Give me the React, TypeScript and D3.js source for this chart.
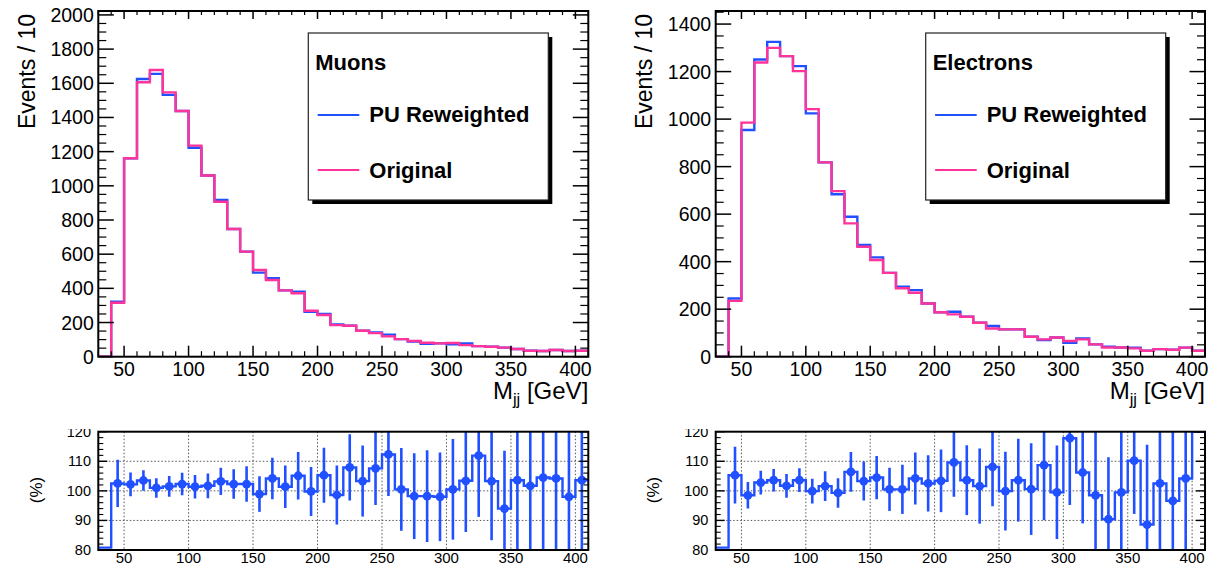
import React from "react";
import * as d3 from "d3";

// ---------- data ----------
const binLow = [30, 40, 50, 60, 70, 80, 90, 100, 110, 120, 130, 140, 150, 160, 170, 180, 190, 200, 210, 220, 230, 240, 250, 260, 270, 280, 290, 300, 310, 320, 330, 340, 350, 360, 370, 380, 390, 400];
const binHigh = 410;

const muonReweighted = [0, 322, 1161, 1625, 1655, 1532, 1438, 1223, 1060, 917, 747, 615, 492, 459, 388, 380, 263, 250, 189, 181, 152, 142, 129, 103, 88, 76, 78, 72, 78, 62, 58, 53, 45, 35, 33, 39, 33, 35];
const muonOriginal = [0, 316, 1161, 1606, 1678, 1547, 1438, 1235, 1060, 907, 747, 615, 507, 449, 388, 371, 269, 244, 185, 181, 152, 138, 119, 103, 92, 82, 78, 80, 68, 62, 58, 53, 45, 35, 33, 39, 33, 35];

const elecReweighted = [0, 245, 954, 1251, 1325, 1265, 1223, 1024, 818, 684, 589, 470, 418, 353, 295, 280, 224, 187, 189, 168, 143, 129, 115, 115, 84, 70, 81, 59, 77, 52, 42, 39, 38, 25, 32, 29, 38, 25];
const elecOriginal = [0, 235, 985, 1238, 1300, 1265, 1202, 1042, 818, 697, 561, 463, 407, 353, 288, 269, 224, 187, 178, 168, 143, 119, 115, 115, 84, 73, 81, 66, 73, 52, 39, 39, 35, 25, 32, 29, 38, 25];

const muonRatio = [0, 102.5, 102.2, 103.5, 101.0, 101.5, 102.3, 101.4, 101.7, 103.2, 102.3, 102.3, 98.9, 104.2, 101.4, 105.1, 99.8, 105.3, 98.6, 107.9, 103.3, 107.6, 112.3, 100.5, 98.2, 98.2, 98.0, 100.5, 103.4, 111.9, 103.3, 94.0, 103.6, 101.7, 104.5, 104.2, 98.0, 103.6];
const muonRatioErr = [0, 8, 4, 3.5, 3.3, 3.5, 3.8, 4, 4.2, 4.6, 5, 6, 6, 7, 7.2, 8, 8.3, 9.3, 10, 11.2, 12, 12.4, 14, 14, 14.5, 15.5, 15, 17, 17.3, 20.7, 20, 19.6, 25, 25, 28, 30, 30, 35];

const elecRatio = [0, 105.3, 98.5, 102.8, 103.6, 101.7, 103.6, 99.9, 101.6, 99.3, 106.4, 103.3, 104.5, 100.5, 100.5, 104.2, 102.5, 103.4, 109.6, 103.6, 101.6, 108.1, 99.9, 103.6, 100.6, 108.7, 99.5, 117.8, 106.2, 98.5, 90.4, 99.5, 110.2, 88.6, 102.5, 96.6, 104.2, 150];
const elecRatioErr = [0, 9.6, 4.5, 4, 3.8, 4, 4, 4.2, 5, 5, 6.7, 6.6, 7.3, 7.3, 8.3, 8.8, 9.5, 10.6, 11.6, 11.8, 12.7, 13.3, 13.3, 14, 15.5, 18.6, 15.8, 22.6, 17.2, 22, 21, 25, 18, 27, 25, 26, 30, 25];

const xTickValues = [50, 100, 150, 200, 250, 300, 350, 400];
const muonYTicks = [0, 200, 400, 600, 800, 1000, 1200, 1400, 1600, 1800, 2000];
const elecYTicks = [0, 200, 400, 600, 800, 1000, 1200, 1400];
const ratioYTicks = [80, 90, 100, 110, 120];
const ratioGridY = [90, 100, 110];

const seriesNames = ["PU Reweighted", "Original"];
const channelNames = ["Muons", "Electrons"];

// ---------- style ----------
const FONT = "'Liberation Sans', Arial, Helvetica, sans-serif";
const BLUE = "#2050ff";
const PINK = "#ff3399";
const TOP_Y0 = 11;
const TOP_Y1 = 356.7;
const R_Y0 = 431.7;
const R_Y1 = 550;

const panels = [
  { left: 98.3, right: 588.3 },
  { left: 715.7, right: 1205 },
];

function histPoints(vals: number[]): [number, number][] {
  const pts: [number, number][] = binLow.map((b, i) => [b, vals[i]]);
  pts.push([binHigh, vals[vals.length - 1]]);
  return pts;
}

function TopPanel(props: {
  idx: number;
  reweighted: number[];
  original: number[];
  yMax: number;
  yTicks: number[];
  title: string;
}) {
  const { idx, reweighted, original, yMax, yTicks, title } = props;
  const { left, right } = panels[idx];
  const x = d3.scaleLinear().domain([30, binHigh]).range([left, right]);
  const y = d3.scaleLinear().domain([0, yMax]).range([TOP_Y1, TOP_Y0]);
  const line = d3
    .line<[number, number]>()
    .x((d) => x(d[0]))
    .y((d) => y(Math.min(d[1], yMax)))
    .curve(d3.curveStepAfter);

  const xMinor = d3.range(30, 411, 10).filter((v) => v % 50 !== 0);
  const yMinor = d3.range(0, yMax, 50).filter((v) => v % 200 !== 0);
  const clipId = `topclip${idx}`;

  const bx = idx === 0 ? 308.3 : 925.7;
  const by = 33;
  const bw = 240;
  const bh = 167;

  return (
    <g>
      <defs>
        <clipPath id={clipId}>
          <rect x={left} y={TOP_Y0} width={right - left} height={TOP_Y1 - TOP_Y0} />
        </clipPath>
      </defs>
      <g clipPath={`url(#${clipId})`}>
        <path d={line(histPoints(reweighted)) || ""} fill="none" stroke={BLUE} strokeWidth={2.4} />
        <path d={line(histPoints(original)) || ""} fill="none" stroke={PINK} strokeWidth={2.4} />
      </g>
      {/* ticks */}
      {xTickValues.map((v) => (
        <g key={"xm" + v}>
          <line x1={x(v)} x2={x(v)} y1={TOP_Y1} y2={TOP_Y1 - 11} stroke="#000" strokeWidth={1.5} />
          <line x1={x(v)} x2={x(v)} y1={TOP_Y0} y2={TOP_Y0 + 8} stroke="#000" strokeWidth={1.5} />
        </g>
      ))}
      {xMinor.map((v) => (
        <g key={"xn" + v}>
          <line x1={x(v)} x2={x(v)} y1={TOP_Y1} y2={TOP_Y1 - 5.5} stroke="#000" strokeWidth={1.2} />
          <line x1={x(v)} x2={x(v)} y1={TOP_Y0} y2={TOP_Y0 + 4} stroke="#000" strokeWidth={1.2} />
        </g>
      ))}
      {yTicks.map((v) => (
        <g key={"ym" + v}>
          <line x1={left} x2={left + 15.5} y1={y(v)} y2={y(v)} stroke="#000" strokeWidth={1.5} />
          <line x1={right} x2={right - 15.5} y1={y(v)} y2={y(v)} stroke="#000" strokeWidth={1.5} />
        </g>
      ))}
      {yMinor.map((v) => (
        <g key={"yn" + v}>
          <line x1={left} x2={left + 8} y1={y(v)} y2={y(v)} stroke="#000" strokeWidth={1.2} />
          <line x1={right} x2={right - 8} y1={y(v)} y2={y(v)} stroke="#000" strokeWidth={1.2} />
        </g>
      ))}
      <rect x={left} y={TOP_Y0} width={right - left} height={TOP_Y1 - TOP_Y0} fill="none" stroke="#000" strokeWidth={2} />
      {/* tick labels */}
      {yTicks.map((v) => (
        <text key={"yl" + v} x={left - 4.5} y={y(v)} textAnchor="end" dominantBaseline="central" fontFamily={FONT} fontSize={19.5} fill="#000">
          {v}
        </text>
      ))}
      {xTickValues.map((v) => (
        <text key={"xl" + v} x={x(v)} y={375.5} textAnchor="middle" fontFamily={FONT} fontSize={19.5} fill="#000">
          {v}
        </text>
      ))}
      {/* titles */}
      <text x={right} y={398.5} textAnchor="end" fontFamily={FONT} fontSize={24} fill="#000">
        M<tspan fontSize={16.5} dy={6}>jj</tspan>
        <tspan dy={-6}> [GeV]</tspan>
      </text>
      <text
        transform={`translate(${left - 63.7},14) rotate(-90)`}
        textAnchor="end"
        fontFamily={FONT}
        fontSize={23}
        fill="#000"
      >
        Events / 10
      </text>
      {/* legend */}
      <rect x={bx + 4} y={by + 4} width={bw} height={bh} fill="#000" />
      <rect x={bx} y={by} width={bw} height={bh} fill="#fff" stroke="#222" strokeWidth={1.2} />
      <text x={bx + 7} y={62} dominantBaseline="central" fontFamily={FONT} fontWeight="bold" fontSize={22} fill="#000">
        {title}
      </text>
      <line x1={bx + 9.4} x2={bx + 51} y1={115} y2={115} stroke={BLUE} strokeWidth={2} />
      <text x={bx + 61} y={114} dominantBaseline="central" fontFamily={FONT} fontWeight="bold" fontSize={22} fill="#000">
        {seriesNames[0]}
      </text>
      <line x1={bx + 9.4} x2={bx + 51} y1={170} y2={170} stroke={PINK} strokeWidth={2} />
      <text x={bx + 61} y={170} dominantBaseline="central" fontFamily={FONT} fontWeight="bold" fontSize={22} fill="#000">
        {seriesNames[1]}
      </text>
    </g>
  );
}

function RatioPanel(props: { idx: number; vals: number[]; errs: number[] }) {
  const { idx, vals, errs } = props;
  const { left, right } = panels[idx];
  const x = d3.scaleLinear().domain([30, binHigh]).range([left, right]);
  const y = d3.scaleLinear().domain([80, 120]).range([R_Y1, R_Y0]);
  const clamp = (v: number) => Math.max(80.8, Math.min(120, v));
  const line = d3
    .line<[number, number]>()
    .x((d) => x(d[0]))
    .y((d) => y(clamp(d[1])))
    .curve(d3.curveStepAfter);
  const clipId = `rclip${idx}`;
  const padClip = `padclip${idx}`;
  const yMinor = d3.range(80, 121, 2).filter((v) => v % 10 !== 0);

  return (
    <g>
      <defs>
        <clipPath id={clipId}>
          <rect x={left} y={R_Y0} width={right - left} height={R_Y1 - R_Y0} />
        </clipPath>
        <clipPath id={padClip}>
          <rect x={0} y={429} width={1214} height={140} />
        </clipPath>
      </defs>
      <g clipPath={`url(#${padClip})`}>
        {/* grid */}
        {xTickValues.map((v) => (
          <line key={"gx" + v} x1={x(v)} x2={x(v)} y1={R_Y0} y2={R_Y1} stroke="#555" strokeWidth={1} strokeDasharray="1.5,2" />
        ))}
        {ratioGridY.map((v) => (
          <line key={"gy" + v} x1={left} x2={right} y1={y(v)} y2={y(v)} stroke="#555" strokeWidth={1} strokeDasharray="1.5,2" />
        ))}
        <g clipPath={`url(#${clipId})`}>
          <path d={line(histPoints(vals)) || ""} fill="none" stroke={BLUE} strokeWidth={2.4} />
          {vals.map((v, i) => {
            if (v <= 0) return null;
            const cx = x(binLow[i] + 5);
            return (
              <g key={"p" + i}>
                <line x1={cx} x2={cx} y1={y(v - errs[i])} y2={y(v + errs[i])} stroke={BLUE} strokeWidth={2.6} />
                <circle cx={cx} cy={y(v)} r={4.4} fill={BLUE} />
              </g>
            );
          })}
        </g>
        {ratioYTicks.map((v) => (
          <g key={"rym" + v}>
            <line x1={left} x2={left + 9} y1={y(v)} y2={y(v)} stroke="#000" strokeWidth={1.4} />
            <line x1={right} x2={right - 9} y1={y(v)} y2={y(v)} stroke="#000" strokeWidth={1.4} />
          </g>
        ))}
        {yMinor.map((v) => (
          <g key={"ryn" + v}>
            <line x1={left} x2={left + 5} y1={y(v)} y2={y(v)} stroke="#000" strokeWidth={1.1} />
            <line x1={right} x2={right - 5} y1={y(v)} y2={y(v)} stroke="#000" strokeWidth={1.1} />
          </g>
        ))}
        <rect x={left} y={R_Y0} width={right - left} height={R_Y1 - R_Y0} fill="none" stroke="#000" strokeWidth={2} />
        {ratioYTicks.map((v) => (
          <text key={"ryl" + v} x={left - 7.3} y={y(v)} textAnchor="end" dominantBaseline="central" fontFamily={FONT} fontSize={14.5} fill="#000">
            {v}
          </text>
        ))}
        {xTickValues.map((v) => (
          <text key={"rxl" + v} x={x(v)} y={563} textAnchor="middle" fontFamily={FONT} fontSize={15} fill="#000">
            {v}
          </text>
        ))}
        <text
          transform={`translate(${left - 62},490) rotate(-90)`}
          textAnchor="middle"
          dominantBaseline="central"
          fontFamily={FONT}
          fontSize={17}
          fill="#000"
        >
          (%)
        </text>
      </g>
    </g>
  );
}

export default function App() {
  return (
    <div style={{ position: "absolute", left: 0, top: 0 }}>
      <svg width={1214} height={564} viewBox="0 0 1214 564" style={{ display: "block", background: "#fff" }}>
        <rect x={0} y={0} width={1214} height={564} fill="#fff" />
        <TopPanel idx={0} reweighted={muonReweighted} original={muonOriginal} yMax={2023} yTicks={muonYTicks} title={channelNames[0]} />
        <TopPanel idx={1} reweighted={elecReweighted} original={elecOriginal} yMax={1455} yTicks={elecYTicks} title={channelNames[1]} />
        <RatioPanel idx={0} vals={muonRatio} errs={muonRatioErr} />
        <RatioPanel idx={1} vals={elecRatio} errs={elecRatioErr} />
      </svg>
    </div>
  );
}
